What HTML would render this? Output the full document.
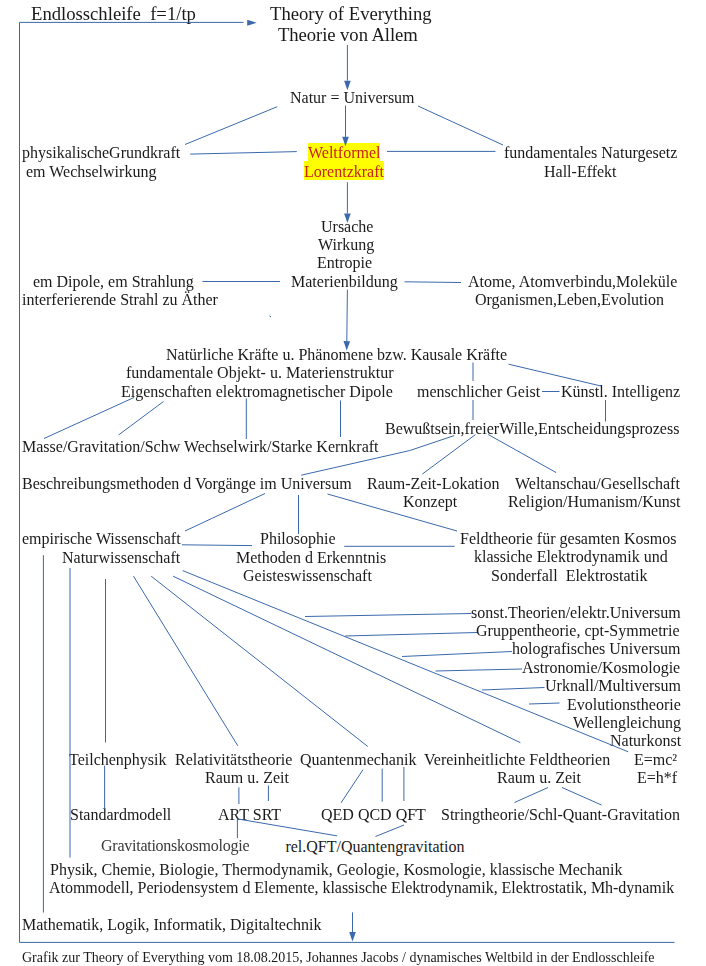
<!DOCTYPE html>
<html><head><meta charset="utf-8"><style>
html,body{margin:0;padding:0;background:#fff;}
body{width:706px;height:966px;position:relative;overflow:hidden;font-family:"Liberation Serif",serif;color:#1a1a1a;}
div{position:absolute;white-space:pre;will-change:transform;}
.hl{background:#ffff00;position:absolute;}
svg{position:absolute;left:0;top:0;}
svg polyline,svg line{fill:none;stroke:#3b69ab;stroke-width:1;}
svg .h{fill:#3b69ab;stroke:none;}
</style></head><body>
<span class="hl" style="left:307.8px;top:143.3px;width:72.3px;height:17.8px"></span>
<span class="hl" style="left:304.2px;top:161.1px;width:79.9px;height:18.5px"></span>
<div style="left:31.40px;top:5px;font-size:18.67px;line-height:18.67px;">Endlosschleife  f=1/tp</div>
<div style="left:269.60px;top:5px;font-size:18.67px;line-height:18.67px;">Theory of Everything</div>
<div style="left:278.00px;top:26px;font-size:18.67px;line-height:18.67px;letter-spacing:-0.07px;">Theorie von Allem</div>
<div style="left:289.80px;top:90px;font-size:16px;line-height:16px;">Natur = Universum</div>
<div style="left:22.10px;top:145px;font-size:16px;line-height:16px;">physikalischeGrundkraft</div>
<div style="left:25.80px;top:164px;font-size:16px;line-height:16px;">em Wechselwirkung</div>
<div style="left:308.20px;top:145px;font-size:16px;line-height:16px;color:#c9211e;">Weltformel</div>
<div style="left:304.40px;top:164px;font-size:16px;line-height:16px;color:#c9211e;">Lorentzkraft</div>
<div style="left:503.90px;top:145px;font-size:16px;line-height:16px;">fundamentales Naturgesetz</div>
<div style="left:543.90px;top:164px;font-size:16px;line-height:16px;">Hall-Effekt</div>
<div style="left:320.90px;top:219px;font-size:16px;line-height:16px;">Ursache</div>
<div style="left:318.40px;top:237px;font-size:16px;line-height:16px;">Wirkung</div>
<div style="left:316.90px;top:255px;font-size:16px;line-height:16px;">Entropie</div>
<div style="left:290.90px;top:274px;font-size:16px;line-height:16px;">Materienbildung</div>
<div style="left:33.40px;top:274px;font-size:16px;line-height:16px;">em Dipole, em Strahlung</div>
<div style="left:21.90px;top:292px;font-size:16px;line-height:16px;">interferierende Strahl zu Äther</div>
<div style="left:468.40px;top:274px;font-size:16px;line-height:16px;">Atome, Atomverbindu,Moleküle</div>
<div style="left:475.40px;top:292px;font-size:16px;line-height:16px;">Organismen,Leben,Evolution</div>
<div style="left:165.90px;top:347px;font-size:16px;line-height:16px;">Natürliche Kräfte u. Phänomene bzw. Kausale Kräfte</div>
<div style="left:126.40px;top:365px;font-size:16px;line-height:16px;">fundamentale Objekt- u. Materienstruktur</div>
<div style="left:120.90px;top:384px;font-size:16px;line-height:16px;">Eigenschaften elektromagnetischer Dipole</div>
<div style="left:417.40px;top:384px;font-size:16px;line-height:16px;">menschlicher Geist</div>
<div style="left:560.90px;top:384px;font-size:16px;line-height:16px;">Künstl. Intelligenz</div>
<div style="left:384.90px;top:421px;font-size:16px;line-height:16px;">Bewußtsein,freierWille,Entscheidungsprozess</div>
<div style="left:21.90px;top:439px;font-size:16px;line-height:16px;">Masse/Gravitation/Schw Wechselwirk/Starke Kernkraft</div>
<div style="left:21.90px;top:476px;font-size:16px;line-height:16px;">Beschreibungsmethoden d Vorgänge im Universum</div>
<div style="left:367.40px;top:476px;font-size:16px;line-height:16px;">Raum-Zeit-Lokation</div>
<div style="left:402.90px;top:494px;font-size:16px;line-height:16px;">Konzept</div>
<div style="left:514.90px;top:476px;font-size:16px;line-height:16px;">Weltanschau/Gesellschaft</div>
<div style="left:507.90px;top:494px;font-size:16px;line-height:16px;">Religion/Humanism/Kunst</div>
<div style="left:21.90px;top:531px;font-size:16px;line-height:16px;">empirische Wissenschaft</div>
<div style="left:61.90px;top:550px;font-size:16px;line-height:16px;">Naturwissenschaft</div>
<div style="left:260.40px;top:531px;font-size:16px;line-height:16px;">Philosophie</div>
<div style="left:236.10px;top:550px;font-size:16px;line-height:16px;">Methoden d Erkenntnis</div>
<div style="left:242.90px;top:568px;font-size:16px;line-height:16px;">Geisteswissenschaft</div>
<div style="left:459.90px;top:531px;font-size:16px;line-height:16px;">Feldtheorie für gesamten Kosmos</div>
<div style="left:473.90px;top:549px;font-size:16px;line-height:16px;">klassiche Elektrodynamik und</div>
<div style="left:490.90px;top:568px;font-size:16px;line-height:16px;">Sonderfall  Elektrostatik</div>
<div style="left:470.90px;top:605px;font-size:16px;line-height:16px;">sonst.Theorien/elektr.Universum</div>
<div style="left:476.40px;top:623px;font-size:16px;line-height:16px;">Gruppentheorie, cpt-Symmetrie</div>
<div style="left:512.40px;top:641px;font-size:16px;line-height:16px;">holografisches Universum</div>
<div style="left:522.40px;top:660px;font-size:16px;line-height:16px;">Astronomie/Kosmologie</div>
<div style="left:544.90px;top:678px;font-size:16px;line-height:16px;">Urknall/Multiversum</div>
<div style="left:567.40px;top:697px;font-size:16px;line-height:16px;">Evolutionstheorie</div>
<div style="left:572.90px;top:715px;font-size:16px;line-height:16px;">Wellengleichung</div>
<div style="left:609.90px;top:733px;font-size:16px;line-height:16px;">Naturkonst</div>
<div style="left:633.90px;top:752px;font-size:16px;line-height:16px;">E=mc²</div>
<div style="left:637.40px;top:770px;font-size:16px;line-height:16px;">E=h*f</div>
<div style="left:69.40px;top:752px;font-size:16px;line-height:16px;">Teilchenphysik</div>
<div style="left:175.40px;top:752px;font-size:16px;line-height:16px;">Relativitätstheorie</div>
<div style="left:204.90px;top:770px;font-size:16px;line-height:16px;">Raum u. Zeit</div>
<div style="left:299.90px;top:752px;font-size:16px;line-height:16px;">Quantenmechanik</div>
<div style="left:423.90px;top:752px;font-size:16px;line-height:16px;">Vereinheitlichte Feldtheorien</div>
<div style="left:497.40px;top:770px;font-size:16px;line-height:16px;">Raum u. Zeit</div>
<div style="left:69.90px;top:807px;font-size:16px;line-height:16px;">Standardmodell</div>
<div style="left:217.90px;top:807px;font-size:16px;line-height:16px;">ART SRT</div>
<div style="left:320.90px;top:807px;font-size:16px;line-height:16px;">QED QCD QFT</div>
<div style="left:441.40px;top:807px;font-size:16px;line-height:16px;">Stringtheorie/Schl-Quant-Gravitation</div>
<div style="left:100.90px;top:838px;font-size:16px;line-height:16px;color:#3a3a3a;letter-spacing:-0.25px;">Gravitationskosmologie</div>
<div style="left:285.40px;top:839px;font-size:16px;line-height:16px;will-change:auto;">rel.QFT/Quantengravitation</div>
<div style="left:49.90px;top:862px;font-size:16px;line-height:16px;">Physik, Chemie, Biologie, Thermodynamik, Geologie, Kosmologie, klassische Mechanik</div>
<div style="left:48.90px;top:880px;font-size:16px;line-height:16px;letter-spacing:-0.03px;">Atommodell, Periodensystem d Elemente, klassische Elektrodynamik, Elektrostatik, Mh-dynamik</div>
<div style="left:21.90px;top:917px;font-size:16px;line-height:16px;">Mathematik, Logik, Informatik, Digitaltechnik</div>
<div style="left:21.90px;top:951px;font-size:14px;line-height:14px;">Grafik zur Theory of Everything vom 18.08.2015, Johannes Jacobs / dynamisches Weltbild in der Endlosschleife</div>
<svg width="706" height="966" viewBox="0 0 706 966">
<polyline points="19.5,942.4 19.5,22.4"/>
<polyline points="19.5,22.4 243.6,22.4"/>
<polyline points="19.5,942.4 674.5,942.4"/>
<polyline points="277.3,106.7 185,144.5"/>
<polyline points="418,106 503,145"/>
<polyline points="190.2,154.1 296.8,151.6"/>
<polyline points="387,151.4 495.5,151.4"/>
<polyline points="202.5,281.5 280,281.5"/>
<polyline points="404.5,281.8 461,282.5"/>
<polyline points="269.5,316 271,317"/>
<polyline points="44,438.5 134,397.5"/>
<polyline points="118.5,435 163.5,401.5"/>
<polyline points="246.3,398.5 246.3,439"/>
<polyline points="340.5,400.4 340.5,437"/>
<polyline points="473,362.5 473,381"/>
<polyline points="508.6,364.2 601,386"/>
<polyline points="542,391.5 559.5,391.5"/>
<polyline points="473,400 473,420"/>
<polyline points="605.5,400 605.5,421.5"/>
<polyline points="454.2,435.6 409.6,450.6 301.2,475.2"/>
<polyline points="475.5,434.5 422.4,474"/>
<polyline points="488.2,434.5 556.2,472.6"/>
<polyline points="327.5,494 457,531"/>
<polyline points="265,493.5 185,531"/>
<polyline points="298.5,495 298.5,534"/>
<polyline points="181.9,544.8 252,545.6"/>
<polyline points="344.2,546.3 454.7,546.3"/>
<polyline points="43.4,555.2 43.4,912.6"/>
<polyline points="70,568 70,857.6"/>
<polyline points="105.5,579 105.5,742.5"/>
<polyline points="133.5,576.2 237.8,745.8"/>
<polyline points="151.2,576.2 367.8,746.5"/>
<polyline points="173.1,576.2 520.4,742.7"/>
<polyline points="182.7,570.6 628.2,751.8"/>
<polyline points="305,616.5 471.5,613.5"/>
<polyline points="345,636 477,632.5"/>
<polyline points="402,656.5 512,651.5"/>
<polyline points="435.5,671 522,669"/>
<polyline points="482,690 544.5,687.5"/>
<polyline points="529,704 559.5,703"/>
<polyline points="104.6,765.7 104.6,809"/>
<polyline points="238.9,787.4 238.9,804"/>
<polyline points="268.4,785.5 268.4,801"/>
<polyline points="382.2,768.6 382.2,801.7"/>
<polyline points="403.9,767 403.9,801"/>
<polyline points="363,769.7 341,802.9"/>
<polyline points="237.4,818.9 237.4,838"/>
<polyline points="237.4,818.9 337.2,835.9"/>
<polyline points="375.5,836.5 404,825"/>
<polyline points="514.5,802.5 548,787.5"/>
<polyline points="562,787.5 601.5,805"/>
<line x1="352.5" y1="912.4" x2="352.5" y2="932"/>
<polygon class="h" points="352.5,941.5 349.2,932 355.8,932"/>
<line x1="347.4" y1="45" x2="347.4" y2="80.7"/>
<polygon class="h" points="347.4,90.2 344.1,80.7 350.7,80.7"/>
<line x1="345.5" y1="105.5" x2="345.5" y2="136.8"/>
<polygon class="h" points="345.5,146.3 342.2,136.8 348.8,136.8"/>
<line x1="347.4" y1="182.2" x2="347.4" y2="213.4"/>
<polygon class="h" points="347.4,222.9 344.1,213.4 350.7,213.4"/>
<line x1="347.4" y1="289.7" x2="346.809" y2="341.101"/>
<polygon class="h" points="346.7,350.6 343.509,341.063 350.109,341.139"/>
<polygon class="h" points="256.6,22.8 247.2,19.8 247.2,25.8"/>
</svg>
</body></html>
